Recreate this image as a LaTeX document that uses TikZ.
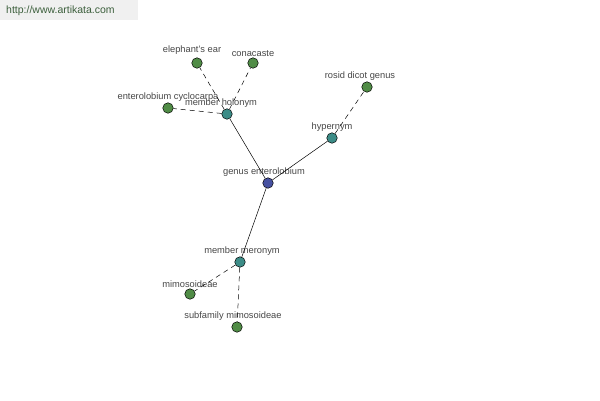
\documentclass[tikz,border=0pt]{standalone}
\usepackage{fontspec}
\setmainfont{Liberation Sans}
\usetikzlibrary{positioning}
\definecolor{hubblue}{RGB}{70,80,160}
\definecolor{reltteal}{RGB}{60,140,135}
\definecolor{leafgreen}{RGB}{80,140,70}
\definecolor{lblgray}{RGB}{70,70,70}
\definecolor{markgreen}{RGB}{60,95,60}
\begin{document}
\begin{tikzpicture}[x=1pt,y=-1pt,font=\fontsize{9.3}{11}\selectfont,dot/.style={circle,draw=black,line width=0.5pt,inner sep=0pt,minimum size=10.5pt},hub/.style={dot,fill=hubblue},rel/.style={dot,fill=reltteal},leaf/.style={dot,fill=leafgreen},lbl/.style={text=lblgray,inner sep=1pt},solidedge/.style={draw=black,line width=0.5pt},dashedge/.style={draw=black,line width=0.5pt,dashed,dash pattern=on 5pt off 4pt}]
\useasboundingbox (0,0) rectangle (600,400);
\fill[gray!12] (0,0) rectangle (138,20);
\node[anchor=west,text=markgreen,inner sep=0pt,font=\fontsize{10.5}{12}\selectfont] (wm) at (6,11) {http://www.artikata.com};
% nodes
\node[hub,label={[lbl,label distance=0pt,xshift=-4pt]above:genus enterolobium}] (G) at (268,183) {};
\node[rel,label={[lbl,label distance=0pt,xshift=-6pt]above:member holonym}] (MH) at (227,114) {};
\node[rel,label={[lbl,label distance=0pt]above:hypernym}] (HY) at (332,138) {};
\node[rel,label={[lbl,label distance=0pt,xshift=2pt]above:member meronym}] (MM) at (240,262) {};
\node[leaf,label={[lbl,label distance=2pt,xshift=-5pt]above:elephant's ear}] (EE) at (197,63) {};
\node[leaf,label={[lbl,label distance=0pt]above:conacaste}] (CO) at (253,63) {};
\node[leaf,label={[lbl,label distance=0pt]above:enterolobium cyclocarpa}] (EC) at (168,108) {};
\node[leaf,label={[lbl,label distance=0pt,xshift=-7pt]above:rosid dicot genus}] (RD) at (367,87) {};
\node[leaf,label={[lbl,label distance=0pt]above:mimosoideae}] (MI) at (190,294) {};
\node[leaf,label={[lbl,label distance=0pt,xshift=-4pt]above:subfamily mimosoideae}] (SM) at (237,327) {};
% edges
\foreach \x in {MH,HY,MM}{\draw[solidedge] (G)--(\x);}
\foreach \x in {EE,CO,EC}{\draw[dashedge] (MH)--(\x);}
\draw[dashedge] (HY)--(RD);
\foreach \x in {MI,SM}{\draw[dashedge] (MM)--(\x);}
\end{tikzpicture}
\end{document}
